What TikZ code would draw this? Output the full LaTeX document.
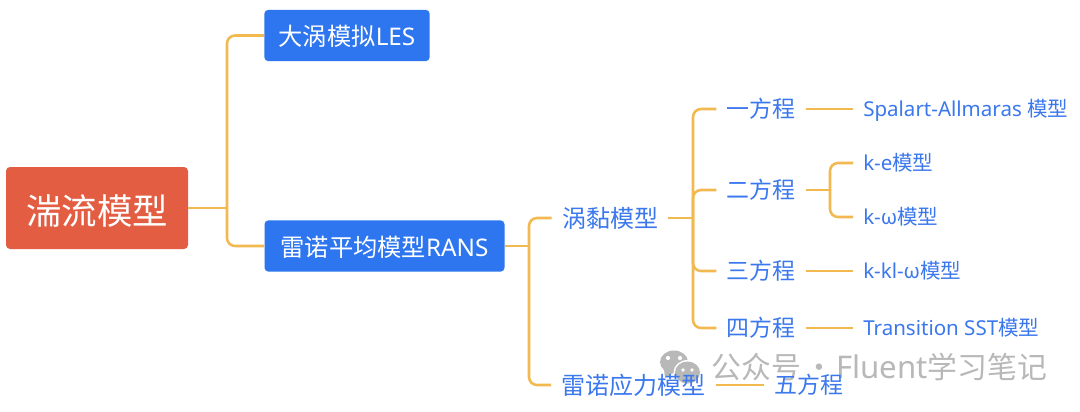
\documentclass[tikz,border=0pt]{standalone}
\usepackage{fontspec}
\setmainfont{Noto Sans}
\newfontfamily\cjk{Noto Sans CJK SC}
\definecolor{linec}{HTML}{F2B950}
\definecolor{boxblue}{HTML}{2D76F0}
\definecolor{rootred}{HTML}{E35D42}
\definecolor{textblue}{HTML}{3B78EE}
\definecolor{wmgray}{HTML}{B8B8B8}
\tikzset{
  conn/.style={draw=linec,line width=1.9pt,rounded corners=6pt},
  rootbox/.style={fill=rootred,text=white,rounded corners=3pt,font=\fontsize{26.6pt}{30pt}\selectfont,minimum width=136.5pt,minimum height=61.5pt,inner sep=0pt,text height=25.4pt,text depth=0pt},
  mainbox/.style={fill=boxblue,text=white,rounded corners=3pt,font=\fontsize{18.2pt}{22pt}\selectfont,minimum height=38.5pt,inner sep=0pt,text height=15pt,text depth=0pt},
  midlabel/.style={text=textblue,font=\fontsize{18pt}{22pt}\selectfont,inner xsep=7.5pt,inner ysep=0pt,text height=13.7pt,text depth=0pt},
  eqlabel/.style={text=textblue,font=\fontsize{17.2pt}{21pt}\selectfont,inner xsep=7.5pt,inner ysep=0pt,text height=13.1pt,text depth=0pt},
  leaflabel/.style={text=textblue,font=\fontsize{15.4pt}{18pt}\selectfont,inner xsep=7.5pt,inner ysep=0pt,anchor=west,text height=11.7pt,text depth=0pt},
  wmtext/.style={text=wmgray,font=\fontsize{22.4pt}{26pt}\selectfont,inner sep=0pt,anchor=west,text height=17pt,text depth=0pt},
}
\begin{document}
\begin{tikzpicture}[x=.75pt,y=-.75pt]
\useasboundingbox[fill=white] (0,0) rectangle (1080,411);
% watermark
\fill[wmgray] (674,362) ellipse (14 and 11.5);
\fill[wmgray] (665,378) -- (664,369) -- (674,372) -- cycle;
\fill[white] (668,358) circle (2.1) (680,358) circle (2.1);
\fill[white] (687.5,372.5) ellipse (14 and 12.5);
\fill[wmgray] (687.5,372.5) ellipse (12.5 and 11);
\fill[white] (683,370) circle (1.8) (692,370) circle (1.8);
\node[wmtext] (wm) at (711,367) {{\cjk 公众号}\hspace{3pt}{\cjk ·}\hspace{1pt}{\fontsize{23.4pt}{26pt}\selectfont Fluent}{\cjk 学习笔记}};
% nodes
\node[rootbox] (root) at (97,208) {\cjk 湍流模型};
\node[mainbox,minimum width=124pt] (les) at (347,35.5) {{\cjk 大涡模拟}LES};
\node[mainbox,minimum width=180pt] (rans) at (384.5,246) {{\cjk 雷诺平均模型}RANS};
\node[midlabel] (ev) at (610,218) {\cjk 涡黏模型};
\node[midlabel] (rs) at (633.5,385) {\cjk 雷诺应力模型};
\node[eqlabel] (e1) at (761,109) {\cjk 一方程};
\node[eqlabel] (e2) at (761,190) {\cjk 二方程};
\node[eqlabel] (e3) at (761,271) {\cjk 三方程};
\node[eqlabel] (e4) at (761,328) {\cjk 四方程};
\node[eqlabel] (e5) at (809,385) {\cjk 五方程};
\node[leaflabel] (sa) at (853,109) {Spalart-Allmaras {\cjk 模型}};
\node[leaflabel] (ke) at (853,163) {k-e{\cjk 模型}};
\node[leaflabel] (kw) at (853,217) {k-ω{\cjk 模型}};
\node[leaflabel] (kkl) at (853,271) {k-kl-ω{\cjk 模型}};
\node[leaflabel] (sst) at (853,328) {Transition SST{\cjk 模型}};
% junctions
\coordinate (j1) at (227,208);
\coordinate (j2) at (529,246);
\coordinate (j3) at (693,218);
\coordinate (j4) at (830,190);
% connectors
\draw[conn] (root.east) -- (j1);
\draw[conn] (j1) |- (les.west);
\draw[conn] (j1) |- (rans.west);
\draw[conn] (rans.east) -- (j2);
\draw[conn] (j2) |- (ev.west);
\draw[conn] (j2) |- (rs.west);
\draw[conn] (ev.east) -- (j3);
\draw[conn] (j3) |- (e1.west);
\draw[conn] (j3) |- (e2.west);
\draw[conn] (j3) |- (e3.west);
\draw[conn] (j3) |- (e4.west);
\draw[conn] (e1.east) -- (sa.west);
\draw[conn] (e2.east) -- (j4);
\draw[conn] (j4) |- (ke.west);
\draw[conn] (j4) |- (kw.west);
\draw[conn] (e3.east) -- (kkl.west);
\draw[conn] (e4.east) -- (sst.west);
\draw[conn] (rs.east) -- (e5.west);
\end{tikzpicture}
\end{document}
